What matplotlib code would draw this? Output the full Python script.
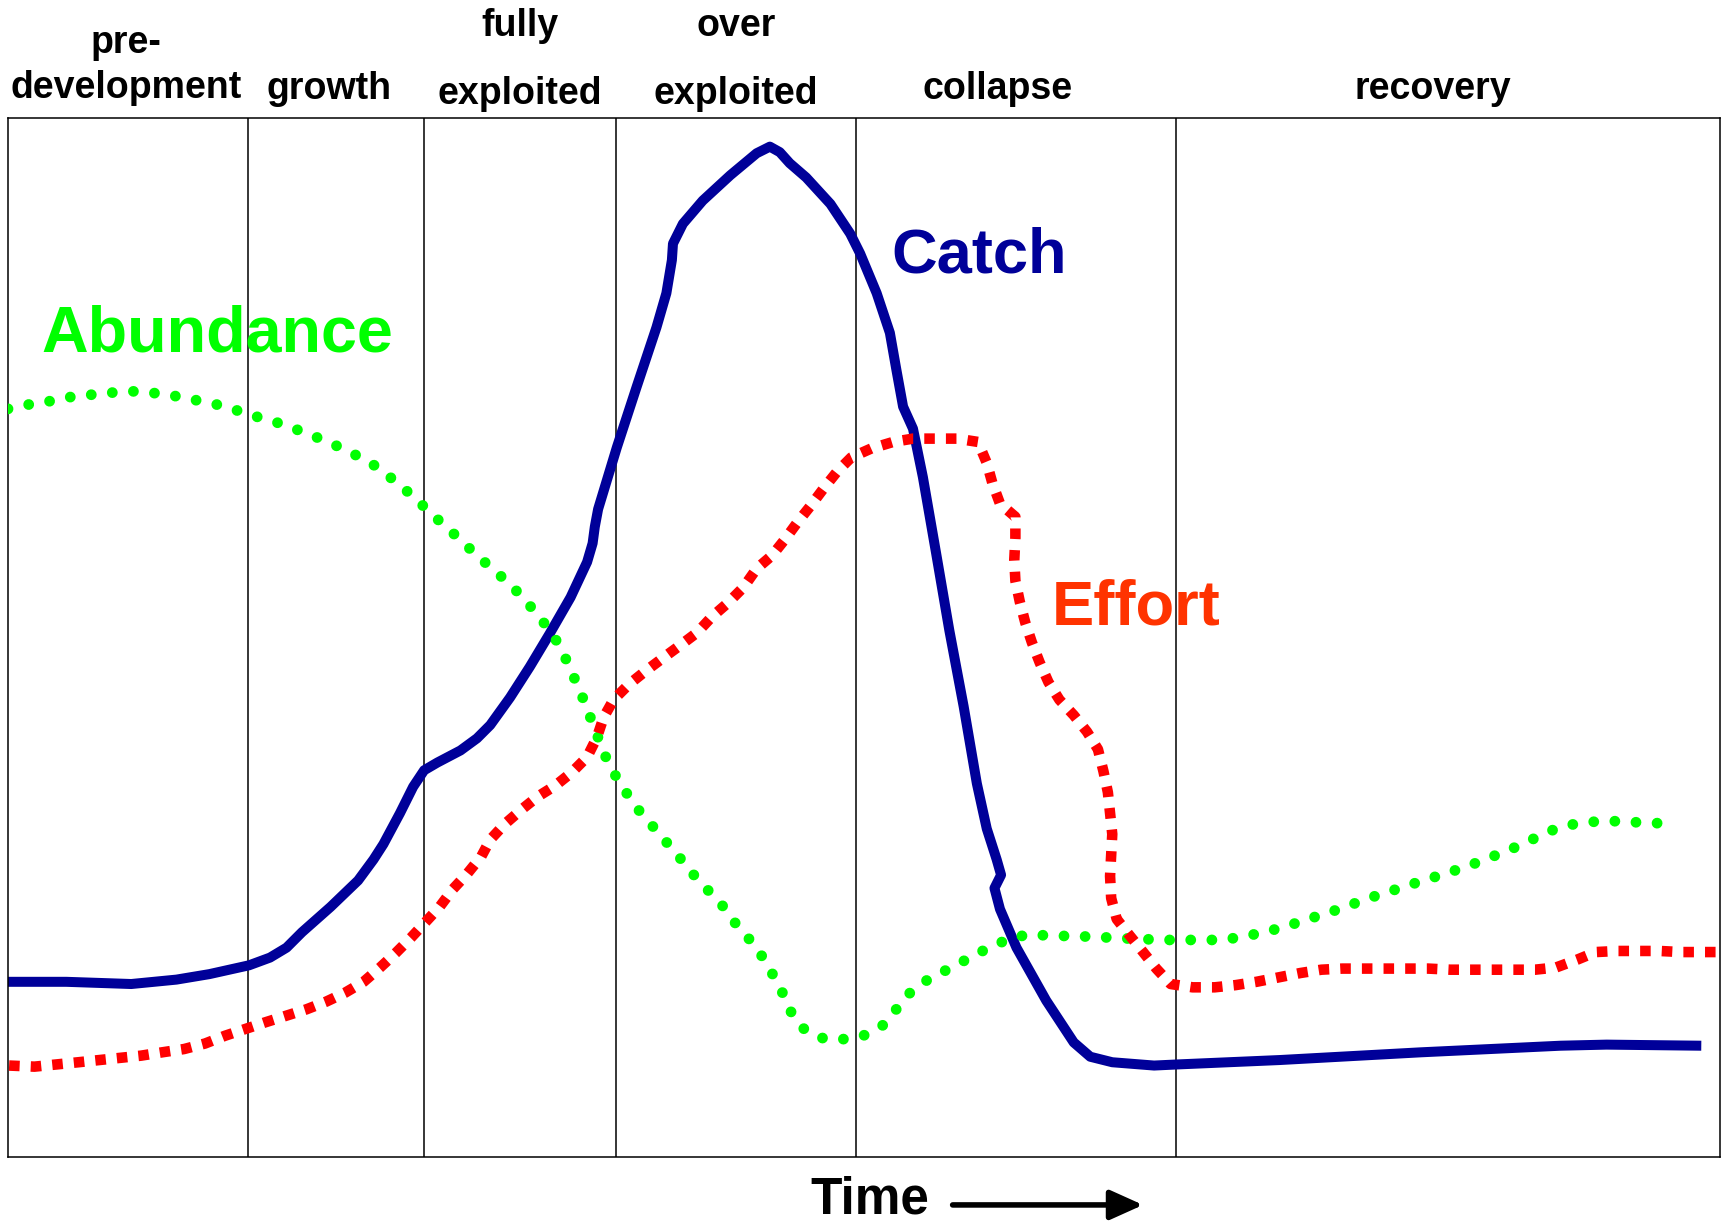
import matplotlib
matplotlib.use("Agg")
import matplotlib.pyplot as plt
from matplotlib.transforms import blended_transform_factory

plt.rcParams['font.family'] = ['Liberation Sans', 'DejaVu Sans']

# ---- data (time units, relative level) ----
phase_bounds = [225, 385, 559, 777, 1068]
phase_labels = [("pre-", "development"), ("growth",), ("fully", "exploited"),
                ("over", "exploited"), ("collapse",), ("recovery",)]
phase_label_x = [114, 299, 472, 668, 906, 1301]

catch_t = [7, 60, 119, 160, 190, 226, 245, 260, 274, 300,
           325, 339, 348, 363, 375, 385, 397, 418, 433, 445,
           463, 481, 499, 518, 533, 538, 540, 543, 560, 578,
           596, 605, 610, 611, 620, 638, 663, 687, 699, 708,
           717, 732, 754, 772, 781, 796, 808, 814, 820, 829,
           838, 850, 862, 875, 887, 896, 905, 909, 903, 908,
           923, 950, 975, 990, 1010, 1048, 1069, 1162, 1290, 1417,
           1459, 1545]
catch_v = [159, 159, 157, 161, 166, 174, 181, 190, 204, 227,
           251, 270, 284, 312, 336, 351, 358, 369, 380, 392,
           417, 445, 475, 508, 540, 557, 572, 588, 644, 699,
           753, 784, 814, 829, 847, 868, 891, 911, 917, 912,
           902, 889, 865, 838, 820, 784, 748, 714, 681, 661,
           617, 548, 478, 409, 339, 298, 270, 256, 244, 225,
           190, 142, 104, 91, 86, 83, 84, 88, 95, 101,
           102, 101]

abund_t = [7, 26, 45, 65, 84, 104, 123, 143, 163, 182,
           201, 220, 239, 257, 275, 293, 311, 329, 346, 361,
           376, 390, 405, 419, 433, 449, 463, 477, 489, 502,
           511, 519, 527, 534, 541, 548, 557, 567, 578, 591,
           604, 616, 629, 642, 656, 667, 680, 692, 702, 711,
           719, 731, 749, 768, 787, 804, 816, 828, 844, 862,
           879, 896, 914, 933, 952, 990, 1030, 1060, 1091, 1110,
           1129, 1148, 1167, 1185, 1204, 1222, 1240, 1259, 1277, 1296,
           1315, 1333, 1351, 1369, 1387, 1405, 1423, 1442, 1462, 1481,
           1505]
abund_v = [679, 683, 686, 690, 692, 694, 695, 693, 690, 686,
           682, 676, 670, 665, 658, 651, 643, 634, 624, 611,
           599, 585, 572, 559, 546, 532, 520, 505, 491, 474,
           458, 440, 422, 404, 386, 367, 349, 333, 317, 302,
           287, 273, 257, 243, 228, 213, 198, 182, 165, 148,
           130, 115, 107, 107, 111, 121, 137, 151, 162, 171,
           180, 189, 197, 202, 201, 200, 198, 197, 197, 197,
           200, 204, 209, 215, 221, 227, 234, 240, 246, 252,
           258, 264, 271, 278, 286, 295, 301, 304, 305, 304,
           303]

effort_t = [8, 31, 51, 71, 90, 109, 128, 147, 167, 186,
            204, 222, 240, 259, 278, 296, 313, 330, 345, 359,
            373, 386, 399, 411, 424, 437, 445, 458, 473, 488,
            504, 519, 533, 542, 548, 557, 571, 586, 602, 617,
            633, 646, 661, 675, 687, 701, 713, 724, 736, 748,
            760, 773, 791, 811, 829, 849, 869, 888, 896, 901,
            908, 922, 922, 921, 922, 926, 931, 937, 944, 952,
            962, 975, 987, 997, 1002, 1006, 1008, 1010, 1009, 1008,
            1009, 1014, 1025, 1038, 1050, 1063, 1083, 1103, 1122, 1141,
            1161, 1181, 1200, 1219, 1238, 1258, 1277, 1297, 1317, 1336,
            1356, 1375, 1394, 1413, 1432, 1449, 1469, 1489, 1507, 1527,
            1546, 1562]
effort_v = [83, 82, 84, 86, 88, 90, 92, 95, 98, 103,
            110, 116, 122, 128, 134, 141, 149, 159, 172, 185,
            199, 213, 227, 243, 257, 273, 288, 302, 315, 327,
            337, 349, 363, 381, 399, 415, 429, 441, 453, 464,
            476, 490, 503, 517, 534, 546, 561, 576, 591, 607,
            622, 635, 643, 649, 652, 652, 652, 649, 630, 612,
            593, 581, 562, 542, 523, 504, 485, 467, 449, 431,
            415, 401, 386, 370, 350, 331, 312, 293, 274, 255,
            235, 216, 202, 186, 171, 157, 154, 154, 156, 159,
            163, 167, 170, 171, 171, 171, 171, 171, 170, 170,
            170, 170, 170, 172, 179, 186, 187, 187, 187, 186,
            186, 186]

# ---- figure ----
W, H = 1727, 1225
fig = plt.figure(figsize=(W / 100, H / 100), dpi=100)
ax = fig.add_axes([8 / W, 1 - 1157 / H, 1712 / W, 1039 / H])
ax.set_xlim(7, 1562)
ax.set_ylim(0, 943)
ax.set_xticks([])
ax.set_yticks([])
for s in ax.spines.values():
    s.set_linewidth(1.1)
    s.set_color('black')

for b in phase_bounds:
    ax.axvline(b, color='black', lw=1.1, zorder=1)

BLUE = '#000099'
GREEN = '#00FF00'
RED = '#FF0000'
ORANGE = '#FF3300'

ax.plot(catch_t, catch_v, color=BLUE, lw=7.2, solid_capstyle='butt',
        solid_joinstyle='round', zorder=2)
ax.plot(abund_t, abund_v, color=GREEN, lw=7.8, linestyle=(0, (0.001, 1.95)),
        dash_capstyle='round', zorder=3)
ax.plot(effort_t, effort_v, color=RED, lw=7.6, linestyle=(0, (1.0, 1.05)),
        dash_capstyle='butt', zorder=4)

ax.text(889, 803, "Catch", color=BLUE, fontsize=45.5, fontweight='bold',
        ha='center', va='baseline')
ax.text(197, 731, "Abundance", color=GREEN, fontsize=46.5, fontweight='bold',
        ha='center', va='baseline')
ax.text(1032, 483, "Effort", color=ORANGE, fontsize=45.5, fontweight='bold',
        ha='center', va='baseline')

# header labels
tr = blended_transform_factory(ax.transData, fig.transFigure)
def fy(shown_y):
    return 1 - shown_y * (W / 1568) / H

line_y = {
    ("pre-", "development"): [48, 89],
    ("growth",): [90],
    ("fully", "exploited"): [33, 94],
    ("over", "exploited"): [33, 94],
    ("collapse",): [90],
    ("recovery",): [90],
}
for lab, x in zip(phase_labels, phase_label_x):
    for txt, yy in zip(lab, line_y[lab]):
        ax.text(x, fy(yy), txt, transform=tr, ha='center', va='baseline',
                fontsize=27, fontweight='bold', clip_on=False)

ax.text(790, fy(1102), "Time", transform=tr, ha='center', va='baseline',
        fontsize=37, fontweight='bold', clip_on=False)
ax.annotate("", xy=(1038, fy(1094)), xytext=(865, fy(1094)),
            xycoords=tr, textcoords=tr,
            arrowprops=dict(arrowstyle='-|>,head_length=1.0,head_width=0.45',
                            mutation_scale=20, lw=4, color='black',
                            shrinkA=0, shrinkB=0),
            annotation_clip=False)

fig.savefig("out.png", dpi=100, facecolor='white')
